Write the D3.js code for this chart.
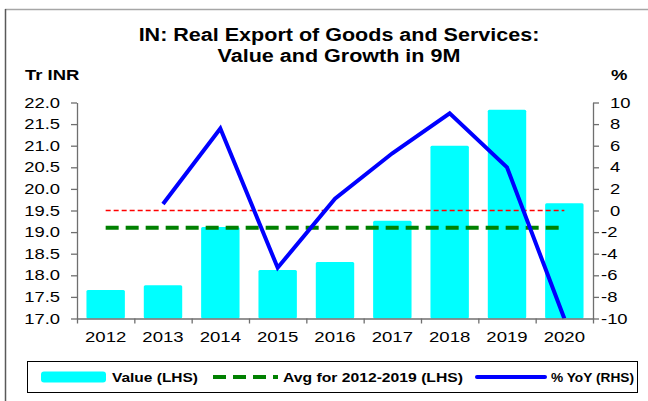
<!DOCTYPE html>
<html><head><meta charset="utf-8">
<script src="https://cdn.jsdelivr.net/npm/d3@7"></script>
<style>html,body{margin:0;padding:0;background:#fff;} svg{display:block;font-family:"Liberation Sans",Arial,Helvetica,sans-serif;}</style>
</head><body><svg id="c" width="648" height="401"></svg>
<script>
// ---- data ----
const years = ["2012","2013","2014","2015","2016","2017","2018","2019","2020"];
const values = [17.66, 17.77, 19.12, 18.12, 18.31, 19.26, 21.0, 21.83, 19.67];
const yoy = [null, 0.6, 7.6, -5.3, 1.1, 5.3, 9.0, 4.0, -10.0];
const avgValue = 19.1;      // Avg for 2012-2019 (LHS)
const zeroRef = 0;          // RHS zero reference
const leftTicks = [17.0,17.5,18.0,18.5,19.0,19.5,20.0,20.5,21.0,21.5,22.0];
const rightTicks = [-10,-8,-6,-4,-2,0,2,4,6,8,10];
const titleLines = ["IN: Real Export of Goods and Services:", "Value and Growth in 9M"];
const leftUnit = "Tr INR", rightUnit = "%";
const legendLabels = ["Value (LHS)", "Avg for 2012-2019 (LHS)", "% YoY (RHS)"];

// ---- layout ----
const svg = d3.select("#c");
const X0 = 77, X1 = 593, Y0 = 102.5, Y1 = 318.5;
const axisColor = "#6f6f6f";

function stretch(sel, sx){
  sel.each(function(){
    const w = this.getComputedTextLength();
    d3.select(this).attr("textLength", w*sx).attr("lengthAdjust","spacingAndGlyphs");
  });
}

// frame
svg.append("line").attr("x1",5).attr("x2",648).attr("y1",9.5).attr("y2",9.5).attr("stroke","#a6a6a6").attr("stroke-width",1.5);
svg.append("line").attr("x1",5.5).attr("x2",5.5).attr("y1",9).attr("y2",401).attr("stroke","#595959").attr("stroke-width",1.5);

// scales
const xBand = d3.scaleBand().domain(years).range([X0, X1]).paddingInner(0.33).paddingOuter(0.165);
const xEdge = d3.scaleLinear().domain([0, years.length]).range([X0, X1]);
const yL = d3.scaleLinear().domain([17, 22]).range([Y1, Y0]);
const yR = d3.scaleLinear().domain([-10, 10]).range([Y1, Y0]);
const cx = d => xBand(d) + xBand.bandwidth()/2;

// bars
svg.append("g").selectAll("rect").data(years).join("rect")
  .attr("x", d => xBand(d)).attr("width", xBand.bandwidth())
  .attr("y", (d,i) => yL(values[i])).attr("height", (d,i) => yL(17) - yL(values[i]))
  .attr("rx", 1.5).attr("fill", "#00ffff");

// zero reference (red dashed)
svg.append("line")
  .attr("x1", cx(years[0])).attr("x2", cx(years[years.length-1]))
  .attr("y1", yR(zeroRef)).attr("y2", yR(zeroRef))
  .attr("stroke", "#ff0000").attr("stroke-width", 1.5).attr("stroke-dasharray", "5,3");

// avg line (green dashed)
svg.append("line")
  .attr("x1", cx(years[0])).attr("x2", cx(years[years.length-1]))
  .attr("y1", yL(avgValue)).attr("y2", yL(avgValue))
  .attr("stroke", "#008000").attr("stroke-width", 4).attr("stroke-dasharray", "13,7");

// yoy line
const lineGen = d3.line().defined(d => d.v != null).x(d => cx(d.y)).y(d => yR(d.v));
svg.append("path").datum(years.map((y,i)=>({y, v: yoy[i]})))
  .attr("d", lineGen).attr("fill","none").attr("stroke","#0000ff").attr("stroke-width",4).attr("stroke-linejoin","miter");

// axes
const gL = svg.append("g").attr("transform", `translate(${X0},0)`)
  .call(d3.axisLeft(yL).tickValues(leftTicks).tickSize(6).tickSizeOuter(0).tickPadding(11).tickFormat(d3.format(".1f")));
const gR = svg.append("g").attr("transform", `translate(${X1},0)`)
  .call(d3.axisRight(yR).tickValues(rightTicks).tickSize(6).tickSizeOuter(0).tickPadding(8).tickFormat(d => d < 0 ? "-" + Math.abs(d) : String(d)));
const gB = svg.append("g").attr("transform", `translate(0,${Y1})`)
  .call(d3.axisBottom(xEdge).tickValues(d3.range(years.length+1)).tickSize(5).tickSizeOuter(0).tickFormat(""));
[gL,gR,gB].forEach(g => {
  g.selectAll(".domain").attr("stroke", axisColor).attr("stroke-width", 1.3);
  g.selectAll(".tick line").attr("stroke", axisColor).attr("stroke-width", 1.3);
  g.selectAll("text").attr("fill","#000").attr("font-size","14.5px").attr("font-family",'"Liberation Sans",Arial,sans-serif');
});
gR.selectAll(".tick text").attr("x", d => d < 0 ? 8 : 17);
stretch(gL.selectAll(".tick text"), 1.27);
stretch(gR.selectAll(".tick text"), 1.27);

// year labels
const yl = svg.append("g").selectAll("text").data(years).join("text")
  .attr("x", d => cx(d)).attr("y", 342).attr("text-anchor","middle")
  .attr("font-size","14.5px").attr("fill","#000").text(d => d);
stretch(yl, 1.28);

// title
const tt = svg.append("g").selectAll("text").data(titleLines).join("text")
  .attr("x", 339).attr("y", (d,i) => 41 + i*21).attr("text-anchor","middle")
  .attr("font-size","17.5px").attr("font-weight","bold").attr("fill","#000").text(d => d);
stretch(tt, 1.23);

// unit labels
stretch(svg.append("text").attr("x",25).attr("y",80).attr("font-size","15px").attr("font-weight","bold").text(leftUnit), 1.23);
stretch(svg.append("text").attr("x",611).attr("y",80).attr("font-size","15px").attr("font-weight","bold").text(rightUnit), 1.23);

// legend
const lg = svg.append("g");
lg.append("rect").attr("x",27.5).attr("y",361.5).attr("width",610).attr("height",31).attr("fill","#fff").attr("stroke","#000").attr("stroke-width",1);
const ly = 377;
lg.append("rect").attr("x",41).attr("y",ly-5.5).attr("width",65).attr("height",11).attr("rx",3).attr("fill","#00ffff");
lg.append("line").attr("x1",213).attr("x2",278).attr("y1",ly).attr("y2",ly).attr("stroke","#008000").attr("stroke-width",4).attr("stroke-dasharray","13,7");
lg.append("line").attr("x1",477).attr("x2",545).attr("y1",ly).attr("y2",ly).attr("stroke","#0000ff").attr("stroke-width",4).attr("stroke-linecap","round");
const legX = [112, 283, 551];
const legW = [86, 180, 83];
lg.selectAll("text.leg").data(legendLabels).join("text").attr("class","leg")
  .attr("x",(d,i)=>legX[i]).attr("y",ly+4.5).attr("font-size","13px").attr("font-weight","bold").attr("fill","#000")
  .attr("textLength",(d,i)=>legW[i]).attr("lengthAdjust","spacingAndGlyphs").text(d=>d);
</script></body></html>
